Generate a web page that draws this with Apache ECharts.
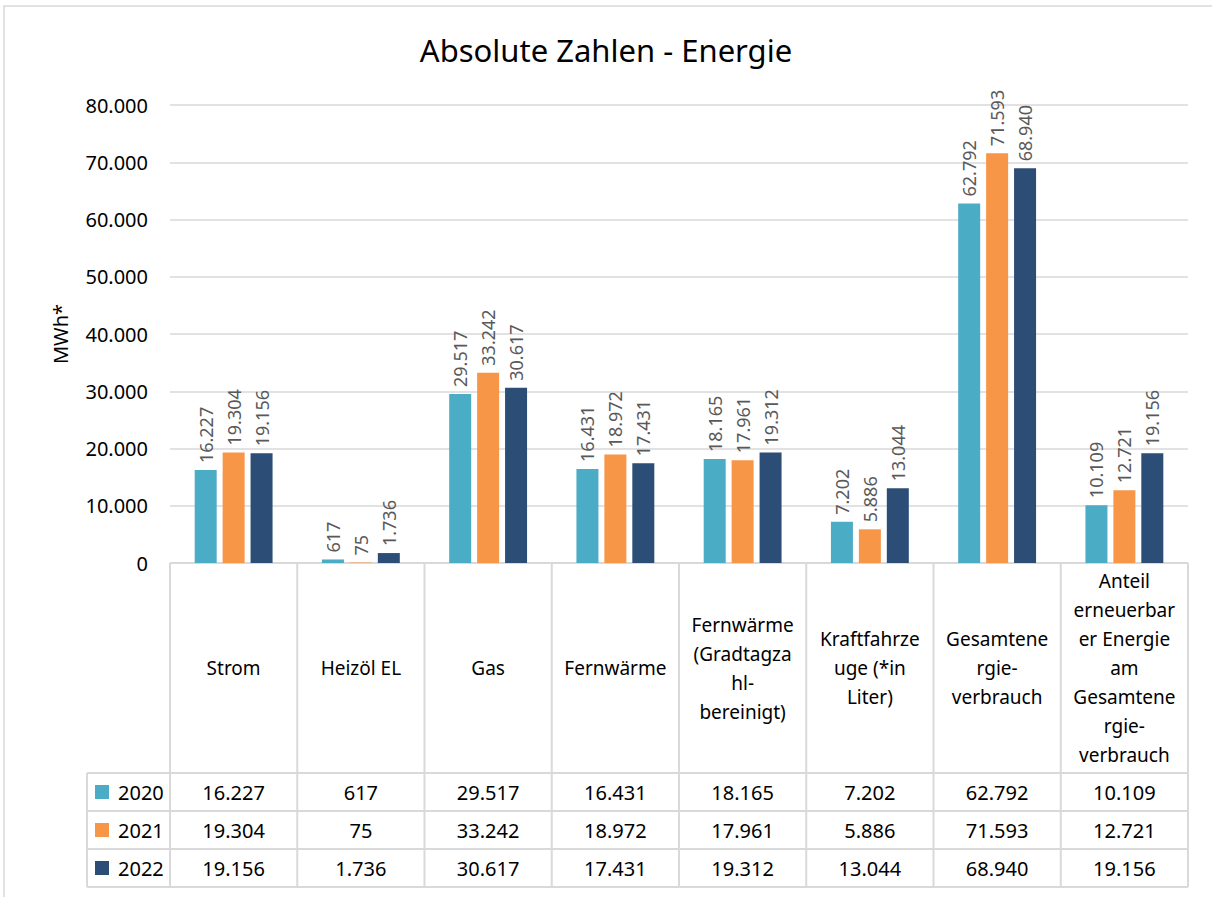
<!DOCTYPE html>
<html>
<head>
<meta charset="utf-8">
<title>Absolute Zahlen - Energie</title>
<script src="https://cdn.jsdelivr.net/npm/echarts@6/dist/echarts.min.js"></script>
<style>
  html, body { margin: 0; padding: 0; background: #fff; }
  #main { width: 1212px; height: 897px; }
</style>
</head>
<body>
<div id="main"></div>
<script>
// Kategorien (Tabellenkopf, Umbrüche wie im Original)
var categories = ['Strom', 'Heizöl EL', 'Gas', 'Fernwärme',
    'Fernwärme\n(Gradtagza\nhl-\nbereinigt)', 'Kraftfahrze\nuge (*in\nLiter)',
    'Gesamtene\nrgie-\nverbrauch',
    'Anteil\nerneuerbar\ner Energie\nam\nGesamtene\nrgie-\nverbrauch'];
var years = ['2020', '2021', '2022'];
var values2020 = [16227, 617, 29517, 16431, 18165, 7202, 62792, 10109];
var values2021 = [19304, 75, 33242, 18972, 17961, 5886, 71593, 12721];
var values2022 = [19156, 1736, 30617, 17431, 19312, 13044, 68940, 19156];
var yTicks = [0, 10000, 20000, 30000, 40000, 50000, 60000, 70000, 80000];
var colors = ['#4BACC6', '#F79646', '#2C4D75'];

var FONT = 'Noto Sans';
var GRID_COLOR = '#d9d9d9';

// Tausenderpunkt wie im deutschen Excel
function fmt(v) {
    return String(v).replace(/\B(?=(\d{3})+(?!\d))/g, '.');
}

var myChart = echarts.init(document.getElementById('main'), null, {renderer: 'svg'});
var seriesData = [values2020, values2021, values2022];

var option = {
    backgroundColor: '#fff',
    animation: false,
    title: {
        text: 'Absolute Zahlen - Energie',
        left: 'center',
        top: 29,
        textStyle: {fontFamily: FONT, fontSize: 31, fontWeight: 'normal', color: '#000'}
    },
    grid: {left: 170, right: 24, top: 105, bottom: 334},
    xAxis: {
        type: 'category',
        data: categories,
        axisLine: {show: false},
        axisTick: {show: false},
        axisLabel: {show: false}
    },
    yAxis: {
        type: 'value',
        min: yTicks[0],
        max: yTicks[yTicks.length - 1],
        interval: yTicks[1] - yTicks[0],
        name: 'MWh*',
        nameLocation: 'middle',
        nameRotate: 90,
        nameGap: 100,
        nameTextStyle: {fontFamily: FONT, fontSize: 20, color: '#000'},
        axisLine: {show: false},
        axisTick: {show: false},
        axisLabel: {
            margin: 22,
            fontFamily: FONT, fontSize: 20, color: '#000',
            formatter: function (v) { return fmt(v); }
        },
        splitLine: {lineStyle: {color: GRID_COLOR, width: 1.5}}
    },
    series: years.map(function (y, i) {
        return {
            name: y,
            type: 'bar',
            data: seriesData[i],
            barWidth: 22,
            barGap: '27%',
            itemStyle: {color: colors[i]},
            label: {
                show: true,
                position: 'top',
                distance: 7,
                rotate: 90,
                align: 'left',
                verticalAlign: 'middle',
                fontFamily: FONT,
                fontSize: 18,
                color: '#595959',
                formatter: function (p) { return fmt(p.value); }
            }
        };
    })
};
myChart.setOption(option);

// Datentabelle unter dem Diagramm, Positionen aus den Achsen abgeleitet
function drawTable() {
    var centers = categories.map(function (c, i) {
        return myChart.convertToPixel({xAxisIndex: 0}, i);
    });
    var band = centers[1] - centers[0];
    var edges = centers.map(function (c) { return c - band / 2; });
    edges.push(centers[centers.length - 1] + band / 2);
    var y0 = myChart.convertToPixel({yAxisIndex: 0}, 0);
    var headH = 210, rowH = 38;
    var legendLeft = edges[0] - 83;
    var yHead = y0 + headH;
    var yEnd = yHead + rowH * years.length;
    var lineStyle = {stroke: GRID_COLOR, lineWidth: 2};
    var els = [];

    // äußerer Rahmen
    els.push({type: 'rect', shape: {x: 4, y: 6, width: 1212, height: 900},
        style: {fill: 'none', stroke: GRID_COLOR, lineWidth: 1.5}, silent: true});

    edges.forEach(function (x) {
        els.push({type: 'line', shape: {x1: x, y1: y0, x2: x, y2: yEnd}, style: lineStyle});
    });
    els.push({type: 'line', shape: {x1: legendLeft, y1: yHead, x2: legendLeft, y2: yEnd}, style: lineStyle});
    els.push({type: 'line', shape: {x1: edges[0], y1: y0, x2: edges[edges.length - 1], y2: y0}, style: lineStyle});
    for (var r = 0; r <= years.length; r++) {
        var yy = yHead + r * rowH;
        els.push({type: 'line', shape: {x1: legendLeft, y1: yy, x2: edges[edges.length - 1], y2: yy}, style: lineStyle});
    }

    // Kopfzeile
    categories.forEach(function (c, i) {
        els.push({type: 'text', x: centers[i], y: y0 + headH / 2,
            style: {text: c, fontFamily: FONT, fontSize: 19, lineHeight: 29, fill: '#000',
                align: 'center', verticalAlign: 'middle'}});
    });

    // Wertezeilen mit Legendensymbol
    years.forEach(function (yName, r) {
        var cy = yHead + r * rowH + rowH / 2;
        els.push({type: 'rect', shape: {x: legendLeft + 8, y: cy - 7, width: 14, height: 14},
            style: {fill: colors[r]}});
        els.push({type: 'text', x: legendLeft + 31, y: cy,
            style: {text: yName, fontFamily: FONT, fontSize: 20, fill: '#000',
                align: 'left', verticalAlign: 'middle'}});
        seriesData[r].forEach(function (v, i) {
            els.push({type: 'text', x: centers[i], y: cy,
                style: {text: fmt(v), fontFamily: FONT, fontSize: 20, fill: '#000',
                    align: 'center', verticalAlign: 'middle'}});
        });
    });

    myChart.setOption({graphic: {elements: els}});
}
drawTable();
window.onresize = myChart.resize;
</script>
</body>
</html>
